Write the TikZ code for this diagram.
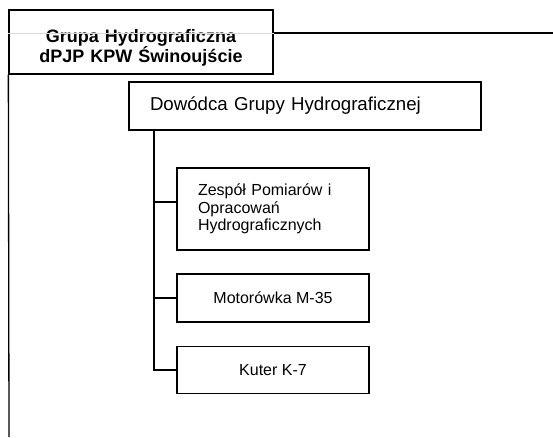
\documentclass[tikz,border=0pt]{standalone}
\usepackage{fontspec}
\setmainfont{Liberation Sans}
\usepackage{tikz}
\definecolor{faintgray}{RGB}{215, 215, 215}

\begin{document}
\begin{tikzpicture}[x=1pt, y=-1pt,
    unitbox/.style={draw, line width=1.3pt, inner sep=0pt},
    conn/.style={line width=1.3pt}]
            \useasboundingbox (0,0) rectangle (553,437);
            % Group header
            \node[unitbox, minimum width=264pt, minimum height=64pt, text width=250pt, align=center,
                  font=\fontsize{18}{21}\selectfont\bfseries] (grupa) at (141,42)
                  {\rule{0pt}{24pt}Grupa Hydrograficzna\\[-1pt]dPJP KPW Świnoujście};
            \coordinate (topend)  at (553,33);
            \coordinate (leftend) at (9,437);
            \draw[color=faintgray, line width=1pt] (grupa.west |- topend) -- (grupa.east |- topend);
            \draw[conn] (grupa.east |- topend) -- (topend);
            \draw[conn] (grupa.south west) -- (leftend);
            % Commander
            \node[unitbox, minimum width=352pt, minimum height=48pt, inner xsep=21pt,
                  text width=310pt, align=left, font=\fontsize{18.67}{22}\selectfont] (dowodca) at (305,106)
                  {Dowódca Grupy Hydrograficznej};
            % Subunits
            \node[unitbox, minimum height=82pt, inner xsep=21pt, text width=150pt, align=left,
                  font=\fontsize{16}{17.5}\selectfont] (zespol) at (273,209)
                  {Zespół Pomiarów i\\Opracowań\\Hydrograficznych};
            \node[unitbox, minimum width=192pt, minimum height=48pt,
                  font=\fontsize{16}{18}\selectfont] (motorowka) at (273,298) {Motorówka M-35};
            \node[unitbox, minimum width=192pt, minimum height=47pt,
                  font=\fontsize{16}{18}\selectfont] (kuter) at (273,370) {Kuter K-7};
            % Connectors
            \coordinate (trunk) at (154,130);
            \coordinate (zespolpin) at ([yshift=7pt]zespol.west);
            \draw[conn] (trunk) |- (kuter.west);
            \draw[conn] (trunk |- motorowka.west) -- (motorowka.west);
            \draw[conn] (trunk |- zespolpin) -- (zespolpin);
        \end{tikzpicture}
\end{document}
